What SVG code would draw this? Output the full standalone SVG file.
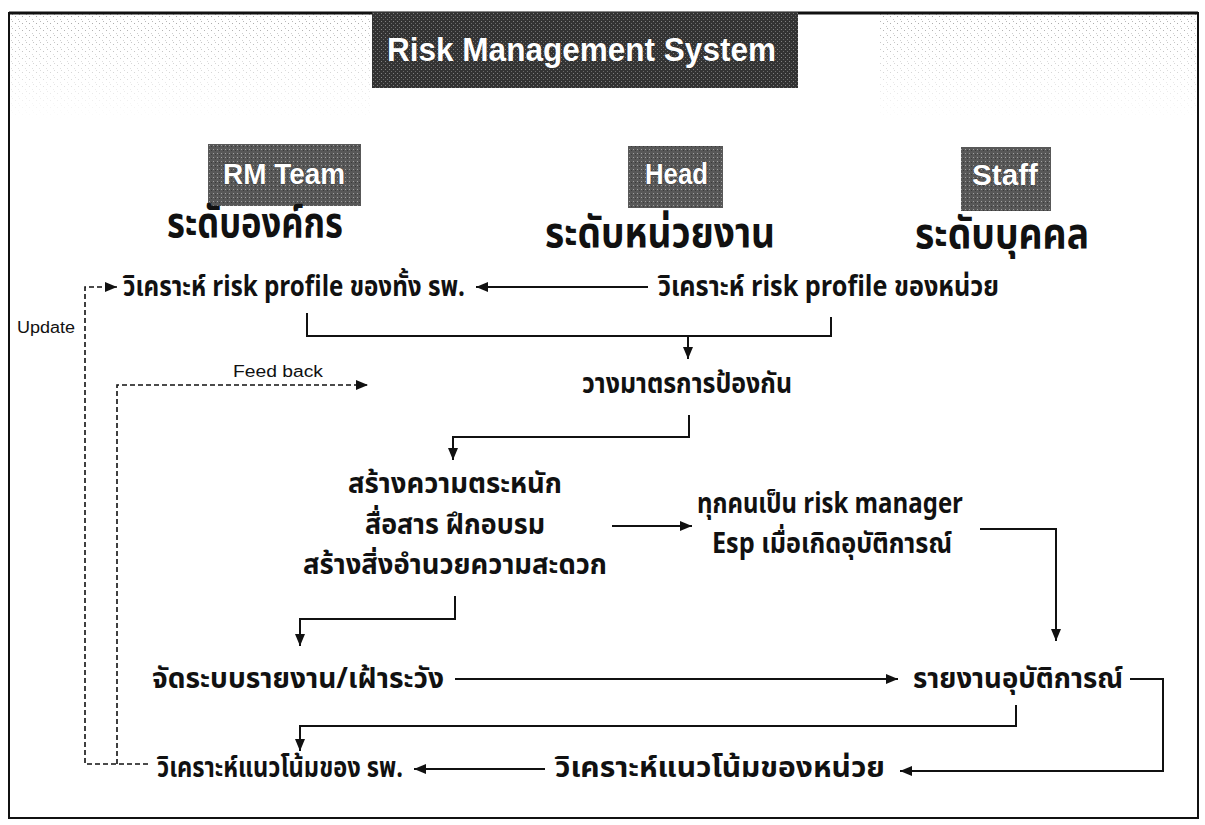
<svg xmlns="http://www.w3.org/2000/svg" width="1205" height="825" viewBox="0 0 1205 825">
<defs>
<style>
.th{font-family:"Noto Sans Thai","Liberation Sans","Noto Sans","DejaVu Sans",sans-serif;font-weight:bold;fill:#111;}
.row{font-size:28px;}
.hd{font-size:42px;}
.box{font-family:"Liberation Sans",Arial,sans-serif;font-weight:bold;fill:#fff;stroke:#222;stroke-width:0.6;paint-order:stroke;}
.lbl{font-family:"Liberation Sans",Arial,sans-serif;font-size:16px;fill:#111;}
.ln{fill:none;stroke:#111;stroke-width:2;}
.dash{fill:none;stroke:#111;stroke-width:1.6;stroke-dasharray:5 3;}
</style>
<pattern id="stip" width="7" height="7" patternUnits="userSpaceOnUse">
<rect x="1" y="2" width="1" height="1" fill="#999"/>
<rect x="4" y="5" width="1" height="1" fill="#bbb"/>
<rect x="5" y="0" width="1" height="1" fill="#aaa"/>
</pattern>
<pattern id="dark" width="4" height="4" patternUnits="userSpaceOnUse">
<rect width="4" height="4" fill="#333"/>
<rect x="1" y="1" width="1" height="1" fill="#808080"/>
<rect x="3" y="3" width="1" height="1" fill="#6a6a6a"/>
</pattern>
<pattern id="mid" width="4" height="4" patternUnits="userSpaceOnUse">
<rect width="4" height="4" fill="#585858"/>
<rect x="1" y="1" width="1" height="1" fill="#a0a0a0"/>
<rect x="3" y="2" width="1" height="1" fill="#3a3a3a"/>
</pattern>
<linearGradient id="fade" x1="0" y1="0" x2="0" y2="1">
<stop offset="0" stop-color="#fff" stop-opacity="1"/>
<stop offset="1" stop-color="#fff" stop-opacity="0"/>
</linearGradient>
<mask id="fm"><rect x="0" y="0" width="1205" height="120" fill="url(#fade)"/></mask>
<marker id="ah" viewBox="0 0 12 10" refX="12" refY="5" markerWidth="12" markerHeight="10" markerUnits="userSpaceOnUse" orient="auto">
<path d="M0,0 L12,5 L0,10 z" fill="#111"/>
</marker>
</defs>
<rect width="1205" height="825" fill="#fff"/>
<g id="background">
<rect x="10" y="13" width="362" height="105" fill="url(#stip)" mask="url(#fm)"/>
<rect x="880" y="13" width="317" height="105" fill="url(#stip)" mask="url(#fm)"/>
<rect x="9" y="13" width="1189" height="805" fill="none" stroke="#111" stroke-width="2"/>
<line x1="9" y1="13" x2="1198" y2="13" stroke="#111" stroke-width="3"/>
</g>
<g id="title">
<rect x="372" y="12" width="426" height="76" fill="url(#dark)"/>
<text class="box" x="387" y="61" font-size="34" textLength="389" lengthAdjust="spacingAndGlyphs">Risk Management System</text>
</g>
<g id="rmteam">
<rect x="208" y="144" width="153" height="62" fill="url(#mid)"/>
<text class="box" x="223" y="184" font-size="29" textLength="122" lengthAdjust="spacingAndGlyphs">RM Team</text>
<text class="th hd" x="167" y="237" textLength="176" lengthAdjust="spacingAndGlyphs">ระดับองค์กร</text>
</g>
<g id="head">
<rect x="628" y="146" width="95" height="62" fill="url(#mid)"/>
<text class="box" x="645" y="184" font-size="29" textLength="63" lengthAdjust="spacingAndGlyphs">Head</text>
<text class="th hd" x="545" y="247" textLength="230" lengthAdjust="spacingAndGlyphs">ระดับหน่วยงาน</text>
</g>
<g id="staff">
<rect x="961" y="147" width="90" height="64" fill="url(#mid)"/>
<text class="box" x="972" y="185" font-size="29" textLength="66" lengthAdjust="spacingAndGlyphs">Staff</text>
<text class="th hd" x="915" y="248" textLength="174" lengthAdjust="spacingAndGlyphs">ระดับบุคคล</text>
</g>
<g id="connectors">
<path class="dash" d="M148 764 H85 V287 H117" marker-end="url(#ah)"/>
<path class="dash" d="M117 764 V385 H368" marker-end="url(#ah)"/>
<path class="ln" d="M648 287 H476" marker-end="url(#ah)"/>
<path class="ln" d="M307 313 V336 H831 V317"/>
<path class="ln" d="M688 336 V359" marker-end="url(#ah)"/>
<path class="ln" d="M689 415 V437 H453 V460" marker-end="url(#ah)"/>
<path class="ln" d="M612 526 H692" marker-end="url(#ah)"/>
<path class="ln" d="M980 529 H1056 V641" marker-end="url(#ah)"/>
<path class="ln" d="M455 596 V619 H300 V646" marker-end="url(#ah)"/>
<path class="ln" d="M455 679 H898" marker-end="url(#ah)"/>
<path class="ln" d="M1130 679 H1163 V771 H900" marker-end="url(#ah)"/>
<path class="ln" d="M1016 705 V726 H300 V751" marker-end="url(#ah)"/>
<path class="ln" d="M545 769 H414" marker-end="url(#ah)"/>
</g>
<g id="labels">
<text class="lbl" x="17" y="333" textLength="58" lengthAdjust="spacingAndGlyphs">Update</text>
<text class="lbl" x="233" y="377" textLength="90" lengthAdjust="spacingAndGlyphs">Feed back</text>
</g>
<g id="n-risk-org"><text class="th row" x="123" y="296" textLength="342" lengthAdjust="spacingAndGlyphs">วิเคราะห์ risk profile ของทั้ง รพ.</text></g>
<g id="n-risk-unit"><text class="th row" x="658" y="296" textLength="341" lengthAdjust="spacingAndGlyphs">วิเคราะห์ risk profile ของหน่วย</text></g>
<g id="n-prevent"><text class="th row" x="582" y="393" textLength="210" lengthAdjust="spacingAndGlyphs">วางมาตรการป้องกัน</text></g>
<g id="n-aware">
<text class="th row" x="348" y="493" textLength="214" lengthAdjust="spacingAndGlyphs">สร้างความตระหนัก</text>
<text class="th row" x="365" y="534" textLength="180" lengthAdjust="spacingAndGlyphs">สื่อสาร ฝึกอบรม</text>
<text class="th row" x="303" y="574" textLength="304" lengthAdjust="spacingAndGlyphs">สร้างสิ่งอำนวยความสะดวก</text>
</g>
<g id="n-everyone">
<text class="th row" x="697" y="513" textLength="266" lengthAdjust="spacingAndGlyphs">ทุกคนเป็น risk manager</text>
<text class="th row" x="712" y="553" textLength="240" lengthAdjust="spacingAndGlyphs">Esp เมื่อเกิดอุบัติการณ์</text>
</g>
<g id="n-system"><text class="th row" x="152" y="688" textLength="292" lengthAdjust="spacingAndGlyphs">จัดระบบรายงาน/เฝ้าระวัง</text></g>
<g id="n-report"><text class="th row" x="913" y="688" textLength="210" lengthAdjust="spacingAndGlyphs">รายงานอุบัติการณ์</text></g>
<g id="n-trend-org"><text class="th row" x="157" y="777" textLength="246" lengthAdjust="spacingAndGlyphs">วิเคราะห์แนวโน้มของ รพ.</text></g>
<g id="n-trend-unit"><text class="th row" x="555" y="777" textLength="330" lengthAdjust="spacingAndGlyphs">วิเคราะห์แนวโน้มของหน่วย</text></g>
</svg>
